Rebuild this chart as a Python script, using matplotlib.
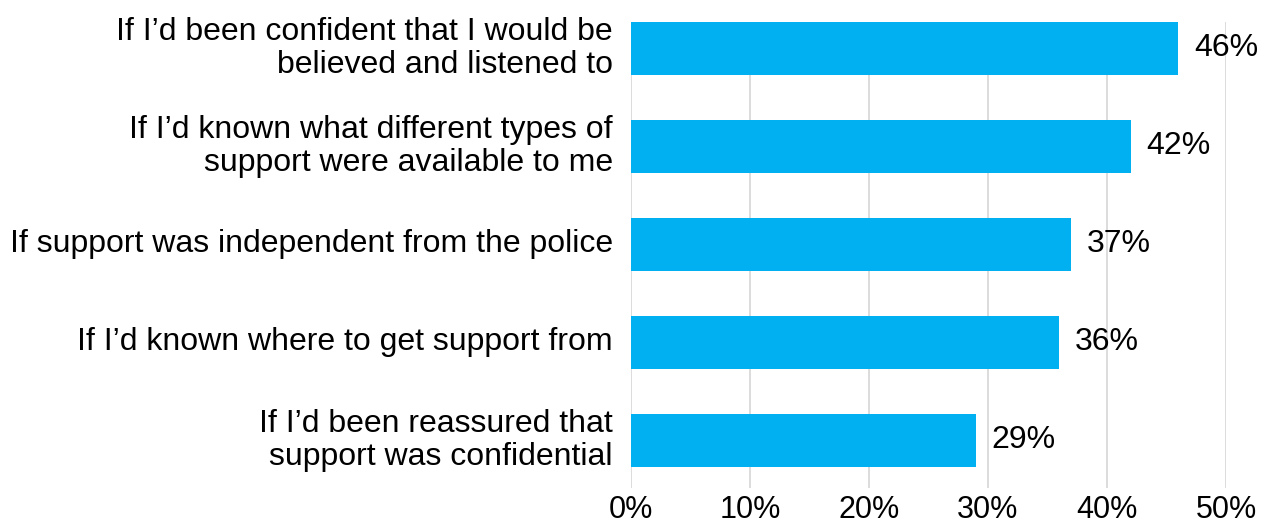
import matplotlib.pyplot as plt
import numpy as np

plt.rcParams['font.family'] = ['Liberation Sans', 'DejaVu Sans']

reasons = [
    "If I\u2019d been confident that I would be\nbelieved and listened to",
    "If I\u2019d known what different types of\nsupport were available to me",
    "If support was independent from the police",
    "If I\u2019d known where to get support from",
    "If I\u2019d been reassured that\nsupport was confidential",
]
shares = [0.46, 0.42, 0.37, 0.36, 0.29]
ticks = [0, 0.1, 0.2, 0.3, 0.4, 0.5]
tick_labels = ["0%", "10%", "20%", "30%", "40%", "50%"]

fig = plt.figure(figsize=(12.69, 5.24), dpi=100)
ax = fig.add_axes([631 / 1269, 1 - 488 / 524, (1226 - 631) / 1269, (488 - 22) / 524])

y = np.arange(len(reasons))
ax.barh(y, shares, height=0.54, color='#00B0F0', zorder=2)

# value labels just past the end of each bar
for yi, v in zip(y, shares):
    ax.text(v + 0.013, yi, f"{round(v * 100)}%", va='center', ha='left', fontsize=23)

ax.set_xlim(0, 0.5)
ax.set_ylim(4.485, -0.27)
ax.set_yticks(y)
ax.set_yticklabels(reasons, fontsize=23, linespacing=1.1, va='center')
ax.set_xticks(ticks)
ax.set_xticklabels(tick_labels, fontsize=22)
ax.tick_params(axis='both', length=0)
ax.tick_params(axis='y', pad=13)
ax.tick_params(axis='x', pad=5)

ax.grid(axis='x', color='#D9D9D9', linewidth=1.3, zorder=0)
for s in ax.spines.values():
    s.set_visible(False)

fig.savefig("out.png", dpi=100)
